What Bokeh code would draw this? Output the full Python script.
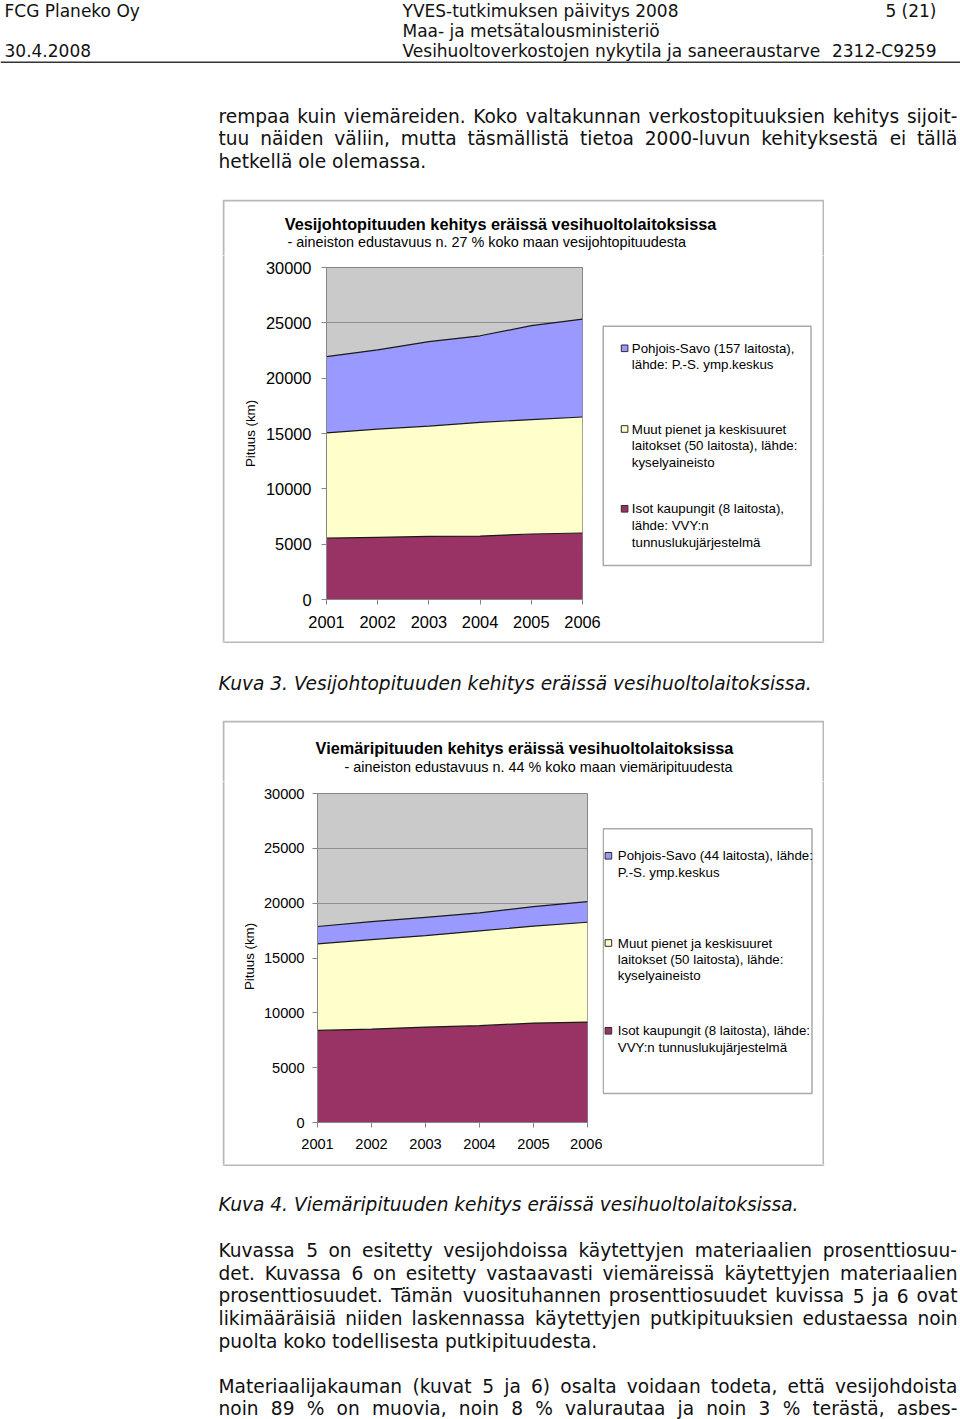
import numpy as np
from bokeh.plotting import figure
from bokeh.models import (Range1d, Spacer, ColumnDataSource, FixedTicker, BasicTickFormatter, Span)
from bokeh.layouts import column, row
from bokeh.embed import file_html
from bokeh.resources import INLINE
from bokeh.core.properties import value

# ---------------- data ----------------
years = [2001, 2002, 2003, 2004, 2005, 2006]
y_ticks = [0, 5000, 10000, 15000, 20000, 25000, 30000]

# Kuva 3: vesijohdot (km)
water_isot = [5540, 5620, 5710, 5730, 5920, 6010]
water_muut = [9510, 9780, 9960, 10280, 10330, 10480]
water_ps = [6890, 7160, 7640, 7820, 8490, 8850]

# Kuva 4: viemärit (km)
sewer_isot = [8400, 8520, 8700, 8830, 9070, 9160]
sewer_muut = [7890, 8160, 8340, 8640, 8830, 9100]
sewer_ps = [1580, 1640, 1670, 1640, 1790, 1880]

water_title = "Vesijohtopituuden kehitys eräissä vesihuoltolaitoksissa"
water_sub = "- aineiston edustavuus n. 27 % koko maan vesijohtopituudesta"
sewer_title = "Viemäripituuden kehitys eräissä vesihuoltolaitoksissa"
sewer_sub = "- aineiston edustavuus n. 44 % koko maan viemäripituudesta"
y_label = "Pituus (km)"

water_legend = [["Pohjois-Savo (157 laitosta),", "lähde: P.-S. ymp.keskus"],
                ["Muut pienet ja keskisuuret", "laitokset (50 laitosta), lähde:", "kyselyaineisto"],
                ["Isot kaupungit (8 laitosta),", "lähde: VVY:n", "tunnuslukujärjestelmä"]]
sewer_legend = [["Pohjois-Savo (44 laitosta), lähde:", "P.-S. ymp.keskus"],
                ["Muut pienet ja keskisuuret", "laitokset (50 laitosta), lähde:", "kyselyaineisto"],
                ["Isot kaupungit (8 laitosta), lähde:", "VVY:n tunnuslukujärjestelmä"]]

header_left = ["FCG Planeko Oy", "30.4.2008"]
header_mid = ["YVES-tutkimuksen päivitys 2008", "Maa- ja metsätalousministeriö",
              "Vesihuoltoverkostojen nykytila ja saneeraustarve"]
header_right = ["5 (21)", "2312-C9259"]

para1 = ["rempaa kuin viemäreiden. Koko valtakunnan verkostopituuksien kehitys sijoit-",
         "tuu näiden väliin, mutta täsmällistä tietoa 2000-luvun kehityksestä ei tällä",
         "hetkellä ole olemassa."]
caption1 = "Kuva 3. Vesijohtopituuden kehitys eräissä vesihuoltolaitoksissa."
caption2 = "Kuva 4. Viemäripituuden kehitys eräissä vesihuoltolaitoksissa."
para2 = ["Kuvassa 5 on esitetty vesijohdoissa käytettyjen materiaalien prosenttiosuu-",
         "det. Kuvassa 6 on esitetty vastaavasti viemäreissä käytettyjen materiaalien",
         "prosenttiosuudet. Tämän vuosituhannen prosenttiosuudet kuvissa 5 ja 6 ovat",
         "likimääräisiä niiden laskennassa käytettyjen putkipituuksien edustaessa noin",
         "puolta koko todellisesta putkipituudesta."]
para3 = ["Materiaalijakauman (kuvat 5 ja 6) osalta voidaan todeta, että vesijohdoista",
         "noin 89 % on muovia, noin 8 % valurautaa ja noin 3 % terästä, asbes-"]

# ---------------- styles ----------------
MAROON = "#993366"
YELLOW = "#FFFFCC"
BLUE = "#9999FF"
SERIES_COLORS = [BLUE, YELLOW, MAROON]   # legend order (top series first)
PLOT_GRAY = "#cacaca"
AXIS_GRAY = "#868686"
BOX_GRAY = "#b8b8b8"
LEG_GRAY = "#a9a9a9"
DOC_FONT = "DejaVu Sans"
CH_FONT = "Liberation Sans"
TXT = "#111111"

# DejaVu Sans advance widths (1/2048 em), used to justify lines word by word
DV = {' ': 651, '%': 1946, '(': 799, ')': 799, ',': 651, '-': 739, '.': 651, ':': 690,
      'A': 1401, 'B': 1405, 'C': 1430, 'D': 1577, 'E': 1294, 'F': 1178, 'G': 1587, 'H': 1540,
      'I': 604, 'J': 604, 'K': 1343, 'L': 1141, 'M': 1767, 'N': 1532, 'O': 1612, 'P': 1235,
      'R': 1423, 'S': 1300, 'T': 1251, 'U': 1499, 'V': 1401, 'W': 2025, 'Y': 1251,
      'a': 1255, 'b': 1300, 'c': 1126, 'd': 1300, 'e': 1260, 'f': 721, 'g': 1300, 'h': 1298,
      'i': 569, 'j': 569, 'k': 1186, 'l': 569, 'm': 1995, 'n': 1298, 'o': 1253, 'p': 1300,
      'q': 1300, 'r': 842, 's': 1067, 't': 803, 'u': 1298, 'v': 1212, 'w': 1675, 'x': 1212,
      'y': 1212, 'z': 1075, 'ä': 1255, 'ö': 1253, 'Ä': 1401, 'Ö': 1612}


def text_width(s, fs):
    return sum(DV.get(ch, 1303) for ch in s) * fs / 2048.0


def layout_paragraph(lines, x0, x1, ys_mid, fs, justify_last=False):
    xs, ys, ts = [], [], []
    for i, (line, y) in enumerate(zip(lines, ys_mid)):
        last = (i == len(lines) - 1) and not justify_last
        words = line.split(" ")
        if last or len(words) == 1:
            xs.append(x0); ys.append(y); ts.append(line)
            continue
        ws = [text_width(w, fs) for w in words]
        gap = (x1 - x0 - sum(ws)) / (len(words) - 1)
        x = x0
        for w, wd in zip(words, ws):
            xs.append(x); ys.append(y); ts.append(w)
            x += wd + gap
    return xs, ys, ts


def tile_fig(x0, x1, y0, y1):
    """A figure whose frame is the whole tile; its ranges are page pixels (y down)."""
    p = figure(width=int(x1 - x0), height=int(y1 - y0), x_range=Range1d(x0, x1), y_range=Range1d(y1, y0),
               min_border=0, toolbar_location=None, output_backend="svg",
               x_axis_location=None, y_axis_location=None, outline_line_color=None,
               background_fill_color="white", border_fill_color="white")
    p.grid.visible = False
    return p


def put_text(p, xs, ys, ts, size, align="left", style="normal", font=DOC_FONT, color=TXT, angle=0.0):
    src = ColumnDataSource(dict(x=xs, y=ys, t=ts))
    p.text(x="x", y="y", text="t", source=src, text_font=value(font), text_font_size=size,
           text_font_style=style, text_align=align, text_baseline="middle", text_color=color,
           angle=angle)


def chart_border(p, box):
    """Outer chart frame (drawn in every tile that touches it; each tile shows its own part)."""
    bx0, by0, bx1, by1 = box
    p.quad(left=[bx0 + 1], right=[bx1 - 1], top=[by0 + 1], bottom=[by1 + 0.5],
           fill_alpha=0, line_color=BOX_GRAY, line_width=2)


BODY = 18.6
BODY_SIZE = "18.6px"
X_LEFT, X_RIGHT = 218, 957
PAGE_W = 960

# ---------------- header + first paragraph ----------------
head = tile_fig(0, PAGE_W, 0, 199)
put_text(head, [4, 4], [10.5, 50.2], header_left, "17px")
put_text(head, [402, 402, 402], [10.5, 30.3, 50.2], header_mid, "17px")
put_text(head, [936, 936], [10.5, 50.2], header_right, "17px", align="right")
head.add_layout(Span(location=61.8, dimension="width", line_color="#333333", line_width=1.6))
xs, ys, ts = layout_paragraph(para1, X_LEFT, X_RIGHT, [115.5, 138.2, 160.9], BODY)
put_text(head, xs, ys, ts, BODY_SIZE)


# ---------------- charts ----------------
def chart_block(isot, muut, ps, title, subtitle, legend_groups, g):
    bx0, by0, bx1, by1 = g["box"]
    fl, fr, ft, fb = g["frame"]
    ysplit = ft - 12
    xl, xs_ = g["xl"], g["xs"]

    def tile(x0, x1, y0, y1):
        t = tile_fig(x0, x1, y0, y1)
        chart_border(t, g["box"])
        return t

    # title tile
    tt = tile(bx0, bx1, by0, ysplit)
    put_text(tt, [g["title_pos"][0]], [g["title_pos"][1]], [title], "16.3px", align="center",
             style="bold", font=CH_FONT, color="black")
    put_text(tt, [g["sub_pos"][0]], [g["sub_pos"][1]], [subtitle], "14.4px", font=CH_FONT, color="black")

    # y-label tile
    yl = tile(bx0, xl, ysplit, by1)
    put_text(yl, [g["ylab_pos"][0]], [g["ylab_pos"][1]], [y_label], "13.3px", align="center",
             font=CH_FONT, color="black", angle=np.pi / 2)

    # plot
    p = figure(width=xs_ - xl, height=by1 - ysplit,
               x_range=Range1d(years[0], years[-1]), y_range=Range1d(y_ticks[0], y_ticks[-1]),
               min_border_left=fl - xl, min_border_right=xs_ - fr,
               min_border_top=ft - ysplit, min_border_bottom=by1 - fb,
               toolbar_location=None, output_backend="svg",
               background_fill_color=PLOT_GRAY, border_fill_color="white",
               outline_line_color=AXIS_GRAY, outline_line_width=1)
    src = ColumnDataSource(dict(year=years, isot=isot, muut=muut, ps=ps))
    p.varea_stack(["isot", "muut", "ps"], x="year", color=[MAROON, YELLOW, BLUE], source=src)
    tops = np.cumsum(np.array([isot, muut, ps], dtype=float), axis=0)
    for t in tops:
        p.line(years, t, line_color="#1a1a1a", line_width=1.2)
    p.xgrid.visible = False
    p.ygrid.ticker = FixedTicker(ticks=y_ticks)
    p.ygrid.grid_line_color = "#8f8f8f"
    p.ygrid.grid_line_width = 1
    p.xaxis.ticker = FixedTicker(ticks=years)
    p.yaxis.ticker = FixedTicker(ticks=y_ticks)
    p.yaxis.formatter = BasicTickFormatter(use_scientific=False)
    p.axis.minor_tick_line_color = None
    p.axis.major_tick_in = 0
    p.axis.major_tick_out = 5
    p.axis.axis_line_color = AXIS_GRAY
    p.axis.major_tick_line_color = AXIS_GRAY
    p.axis.major_label_text_font = CH_FONT
    p.axis.major_label_text_font_size = g["tick_size"]
    p.axis.major_label_text_color = "black"
    p.yaxis.major_label_standoff = g["ystand"]
    p.xaxis.major_label_standoff = 11

    # legend tile
    lg = tile(xs_, bx1, ysplit, by1)
    lx0, ly0, lx1, ly1 = g["legend_box"]
    lg.quad(left=[lx0], right=[lx1], top=[ly0], bottom=[ly1], fill_color="white",
            line_color=LEG_GRAY, line_width=1.5)
    sw = 6.6
    sx0 = g["swatch_x"]
    lxs, lys, lts = [], [], []
    for lines, col, yc in zip(legend_groups, SERIES_COLORS, g["legend_rows"]):
        lg.quad(left=[sx0], right=[sx0 + sw], top=[yc - sw / 2], bottom=[yc + sw / 2],
                fill_color=col, line_color="#2a2a2a", line_width=1)
        for k, txt in enumerate(lines):
            lxs.append(g["legend_text_x"]); lys.append(yc + k * g["pitch"]); lts.append(txt)
    put_text(lg, lxs, lys, lts, "13.3px", font=CH_FONT, color="black")

    # the plot is wrapped in its own column so that the row does not align tile frames to it
    return column(tt, row(yl, column(p), lg))


g1 = dict(box=(222, 199, 824, 641), frame=(326, 582, 267, 599), xl=260, xs=601,
          tick_size="16.4px", ystand=10,
          title_pos=(500, 223.5), sub_pos=(287, 241.3), ylab_pos=(249.5, 433),
          legend_box=(602.75, 325.75, 810.5, 565), swatch_x=620.8, legend_text_x=631.3,
          legend_rows=[347.8, 428.5, 508.3], pitch=16.6)
g2 = dict(box=(222, 720, 824, 1164), frame=(317, 587, 793, 1122), xl=260, xs=602,
          tick_size="14.6px", ystand=8,
          title_pos=(524, 747.6), sub_pos=(344, 766.7), ylab_pos=(248.7, 956),
          legend_box=(602.75, 828.25, 811.5, 1093), swatch_x=604.6, legend_text_x=617.3,
          legend_rows=[855.3, 942.5, 1030.3], pitch=16.4)

block1 = chart_block(water_isot, water_muut, water_ps, water_title, water_sub, water_legend, g1)
block2 = chart_block(sewer_isot, sewer_muut, sewer_ps, sewer_title, sewer_sub, sewer_legend, g2)

# ---------------- caption between charts (also carries the lower edge of chart 1's frame) ----
cap = tile_fig(0, PAGE_W, 641, 720)
chart_border(cap, g1["box"])
put_text(cap, [X_LEFT], [683.2], [caption1], BODY_SIZE, style="italic")

# ---------------- tail text (also carries the lower edge of chart 2's frame) ----------------
tail = tile_fig(0, PAGE_W, 1164, 1419)
chart_border(tail, g2["box"])
put_text(tail, [X_LEFT], [1204], [caption2], BODY_SIZE, style="italic")
xs, ys, ts = layout_paragraph(para2, X_LEFT, X_RIGHT, [1249.8, 1272.5, 1295.2, 1317.8, 1340.5], BODY)
put_text(tail, xs, ys, ts, BODY_SIZE)
xs, ys, ts = layout_paragraph(para3, X_LEFT, X_RIGHT, [1385.6, 1407.6], BODY, justify_last=True)
put_text(tail, xs, ys, ts, BODY_SIZE)

page = column(head,
              row(Spacer(width=222, height=442), block1),
              cap,
              row(Spacer(width=222, height=444), block2),
              tail)

open("out.html", "w").write(file_html(page, INLINE, title="Vesijohto- ja viemäripituudet"))
